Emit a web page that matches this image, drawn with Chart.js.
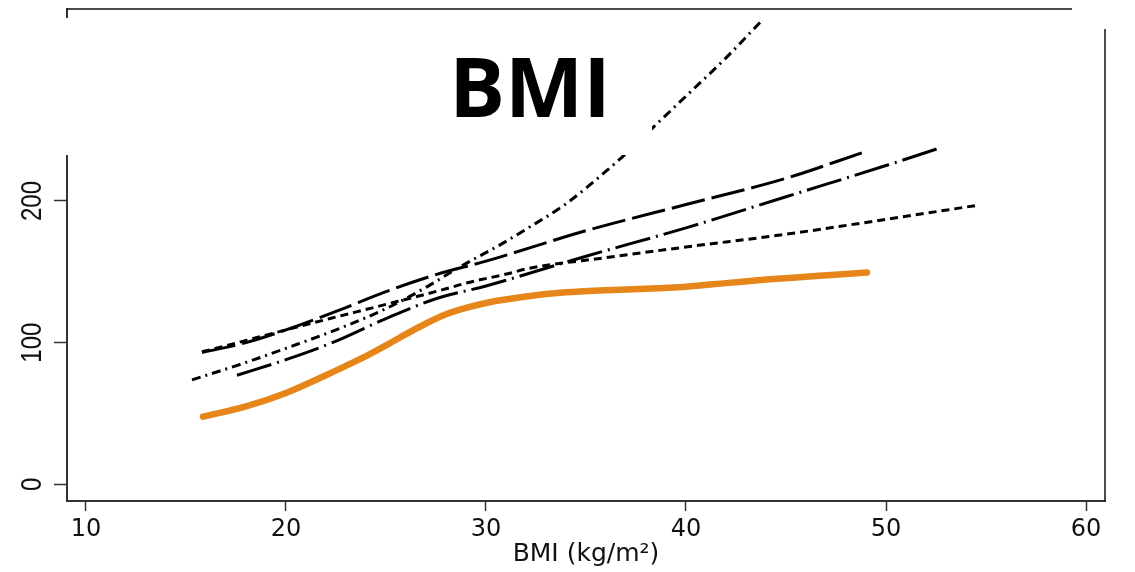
<!DOCTYPE html>
<html>
<head>
<meta charset="utf-8">
<script src="https://cdn.jsdelivr.net/npm/chart.js@4/dist/chart.umd.min.js"></script>
<style>
  html, body { margin: 0; padding: 0; background: #fff; }
  #wrap { width: 1135px; height: 572px; }
</style>
</head>
<body>
<div id="wrap"><canvas id="chart" width="1135" height="572"></canvas></div>
<script>
// ticks
const xTickValues = [10, 20, 30, 40, 50, 60];
const yTickValues = [0, 100, 200];

// orange (main) curve
const orangeX = [15.85, 18, 20, 22, 23.2, 24, 25, 26, 27, 28, 29, 30, 32, 34, 36, 38, 40, 42, 44, 46, 48, 49.05];
const orangeY = [47.7, 55, 64.5, 77, 85, 90.5, 98, 106, 113.5, 120, 124.5, 128, 132.5, 135.5, 137, 138, 139.5, 142, 144.5, 146.5, 148.5, 149.5];

// long dash
const longDashX = [15.8, 18, 20, 22.5, 25, 27.5, 30, 35, 40, 45, 48.8];
const longDashY = [93, 100, 109, 122, 136, 148, 157.5, 179, 197.5, 216, 234];

// long dash-dot
const dashDotX = [17.55, 20, 22.5, 25, 27.5, 30, 35, 40, 45, 50, 52.6];
const dashDotY = [77, 88, 101, 117, 131, 140, 161, 181, 203, 225, 237];

// short dash
const shortDashX = [15.8, 18, 20, 22.2, 25, 28, 29, 31.2, 32, 36, 40, 45, 50, 54.6];
const shortDashY = [93.5, 101.5, 109, 117, 127, 138, 142, 149, 152, 160, 167.5, 176.5, 187, 197];

// dash-dot-dot (steep)
const dashDotDotX = [15.3, 18, 20, 22.5, 25, 27, 28.7, 30.7, 32, 34, 36, 37, 38.4, 40, 42, 43.7];
const dashDotDotY = [73.7, 86, 96, 109, 124, 139, 153.5, 169, 180, 198, 221, 233.5, 252.5, 274, 301, 326];

const toPoints = (xs, ys) => xs.map((x, i) => ({ x: x, y: ys[i] }));

const tickFont = { family: "'DejaVu Sans', sans-serif", size: 24 };

const overlayPlugin = {
  id: "overlay",
  afterDraw(chart) {
    const ctx = chart.ctx;
    const area = chart.chartArea;
    const yScale = chart.scales.y;
    ctx.save();

    // white panel behind the big title
    ctx.fillStyle = "#fff";
    ctx.fillRect(0, area.top + 9, 652, 155 - area.top - 9);

    // frame: top line and right line
    ctx.strokeStyle = "#111";
    ctx.lineWidth = 1.5;
    ctx.beginPath();
    ctx.moveTo(area.left, area.top);
    ctx.lineTo(area.right - 33, area.top);
    ctx.moveTo(area.right, area.top + 20);
    ctx.lineTo(area.right, area.bottom);
    ctx.stroke();

    // title
    ctx.fillStyle = "#000";
    ctx.font = "bold 83px 'Open Sans', sans-serif";
    ctx.textAlign = "center";
    ctx.textBaseline = "alphabetic";
    ctx.fillText("BMI", 530, 117);

    // rotated y tick labels (slightly stretched like the source image)
    ctx.font = "24px 'Liberation Sans', Arial, sans-serif";
    ctx.fillStyle = "#111";
    ctx.textBaseline = "middle";
    yScale.ticks.forEach(t => {
      const py = yScale.getPixelForValue(t.value);
      ctx.save();
      ctx.translate(33, py);
      ctx.rotate(-Math.PI / 2);
      ctx.scale(1, 1.2);
      ctx.fillText(String(t.value), 0, 0);
      ctx.restore();
    });
    ctx.restore();
  }
};

new Chart(document.getElementById("chart").getContext("2d"), {
  type: "line",
  data: {
    datasets: [
      {
        data: toPoints(orangeX, orangeY),
        borderColor: "#E6861A",
        borderWidth: 6.5,
        borderCapStyle: "round",
        pointRadius: 0,
        cubicInterpolationMode: "monotone",
      },
      {
        data: toPoints(longDashX, longDashY),
        borderColor: "#000",
        borderWidth: 3,
        borderDash: [34, 7],
        pointRadius: 0,
        cubicInterpolationMode: "monotone",
      },
      {
        data: toPoints(dashDotX, dashDotY),
        borderColor: "#000",
        borderWidth: 3,
        borderDash: [36, 6, 2, 6],
        pointRadius: 0,
        cubicInterpolationMode: "monotone",
      },
      {
        data: toPoints(shortDashX, shortDashY),
        borderColor: "#000",
        borderWidth: 3,
        borderDash: [8, 5],
        pointRadius: 0,
        cubicInterpolationMode: "monotone",
      },
      {
        data: toPoints(dashDotDotX, dashDotDotY),
        borderColor: "#000",
        borderWidth: 3,
        borderDash: [9, 5, 2, 5],
        pointRadius: 0,
        cubicInterpolationMode: "monotone",
      },
    ],
  },
  options: {
    responsive: false,
    maintainAspectRatio: false,
    animation: false,
    layout: { padding: { top: 9, right: 30, left: 0, bottom: 0 } },
    plugins: {
      legend: { display: false },
      tooltip: { enabled: false },
    },
    scales: {
      x: {
        type: "linear",
        min: 9.05,
        max: 60.95,
        afterBuildTicks: scale => {
          scale.ticks = xTickValues.map(v => ({ value: v }));
        },
        afterFit: scale => {
          scale.height = 71;
        },
        grid: {
          drawOnChartArea: false,
          drawTicks: true,
          tickLength: 10,
          tickColor: "#333",
          tickWidth: 1.5,
        },
        border: { display: true, color: "#333", width: 2 },
        ticks: {
          color: "#111",
          font: tickFont,
          padding: 4,
          maxRotation: 0,
        },
        title: {
          display: true,
          text: "BMI (kg/m²)",
          color: "#111",
          font: { family: "'DejaVu Sans', sans-serif", size: 25 },
          padding: { top: 0, bottom: 3 },
        },
      },
      y: {
        type: "linear",
        min: -11.8,
        max: 335.5,
        afterBuildTicks: scale => {
          scale.ticks = yTickValues.map(v => ({ value: v }));
        },
        afterFit: scale => {
          scale.width = 67;
        },
        grid: {
          drawOnChartArea: false,
          drawTicks: true,
          tickLength: 13,
          tickColor: "#333",
          tickWidth: 1.5,
        },
        border: { display: true, color: "#333", width: 2 },
        ticks: { display: false },
      },
    },
  },
  plugins: [overlayPlugin],
});
</script>
</body>
</html>
